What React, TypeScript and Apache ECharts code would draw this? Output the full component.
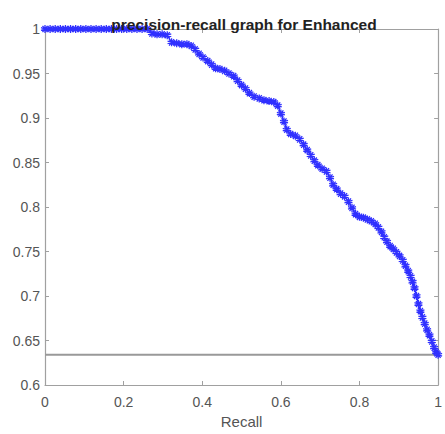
import React, { useEffect, useRef } from "react";
import * as echarts from "echarts";

const titleText = "precision-recall graph for Enhanced";
const xAxisName = "Recall";
const xTicks = [0, 0.2, 0.4, 0.6, 0.8, 1];
const yTicks = [0.6, 0.65, 0.7, 0.75, 0.8, 0.85, 0.9, 0.95, 1];
const baselinePrecision = 0.634;

const recall = [
  0, 0.013, 0.026, 0.039, 0.052, 0.065, 0.078, 0.091, 0.104, 0.117, 0.13, 0.143, 0.156, 0.169, 0.182, 0.195,
  0.208, 0.221, 0.234, 0.247, 0.26, 0.272, 0.285, 0.298, 0.311, 0.322, 0.335, 0.348, 0.361, 0.372, 0.382,
  0.392, 0.402, 0.414, 0.424, 0.434, 0.445, 0.457, 0.468, 0.48, 0.49, 0.5, 0.51, 0.52, 0.532, 0.545, 0.557,
  0.57, 0.582, 0.592, 0.6, 0.608, 0.615, 0.625, 0.637, 0.648, 0.658, 0.667, 0.676, 0.685, 0.694, 0.705,
  0.716, 0.725, 0.733, 0.742, 0.752, 0.762, 0.772, 0.781, 0.79, 0.8, 0.81, 0.82, 0.83, 0.84, 0.848, 0.856,
  0.863, 0.87, 0.878, 0.886, 0.894, 0.902, 0.91, 0.917, 0.924, 0.93, 0.935, 0.94, 0.945, 0.95, 0.955, 0.96,
  0.966, 0.972, 0.978, 0.984, 0.99, 0.995, 1.0,
];
const precision = [
  1, 1, 1, 1, 1, 1, 1, 1, 1, 1, 1, 1, 1, 1, 1, 1, 1, 1, 1, 1, 1, 0.995, 0.994, 0.994, 0.993, 0.985, 0.984,
  0.983, 0.983, 0.981, 0.977, 0.972, 0.968, 0.964, 0.96, 0.956, 0.955, 0.953, 0.95, 0.947, 0.942, 0.937,
  0.933, 0.928, 0.924, 0.922, 0.92, 0.919, 0.918, 0.914, 0.905, 0.896, 0.887, 0.882, 0.88, 0.876, 0.87,
  0.864, 0.858, 0.852, 0.847, 0.843, 0.84, 0.833, 0.825, 0.82, 0.815, 0.812, 0.806, 0.799, 0.792, 0.789,
  0.788, 0.786, 0.784, 0.781, 0.777, 0.772, 0.766, 0.761, 0.756, 0.753, 0.749, 0.745, 0.74, 0.734, 0.728,
  0.722, 0.716, 0.709, 0.7, 0.691, 0.683, 0.676, 0.669, 0.662, 0.656, 0.649, 0.642, 0.637, 0.634,
];

const starPath = "path://M0,-5L0,5M-4.8,-1.6L4.8,1.6M-4.8,1.6L4.8,-1.6M-3,-4L3,4M-3,4L3,-4";

export default function App() {
  const ref = useRef<HTMLDivElement>(null);
  useEffect(() => {
    document.documentElement.style.margin = "0";
    document.documentElement.style.overflow = "hidden";
    document.body.style.margin = "0";
    document.body.style.overflow = "hidden";
    if (!ref.current) return;
    const chart = echarts.init(ref.current, undefined, { renderer: "svg" });
    const axisColor = "#a0a0a0";
    const font = "Liberation Sans, Arial, sans-serif";
    const labelStyle = { color: "#555555", fontSize: 14, fontFamily: font };
    const common = {
      axisLine: { show: true, onZero: false, lineStyle: { color: axisColor, width: 1.2 } },
      axisTick: { show: true, inside: true, length: 4, lineStyle: { color: axisColor } },
      splitLine: { show: false },
    };
    chart.setOption({
      animation: false,
      backgroundColor: "#ffffff",
      title: {
        text: titleText,
        left: 239,
        textAlign: "center",
        top: 11,
        textStyle: { fontSize: 15.5, fontWeight: "bold", color: "#222", fontFamily: font },
      },
      grid: { left: 45, right: 2, top: 29, bottom: 42, containLabel: false },
      xAxis: [
        {
          type: "value",
          min: xTicks[0],
          max: xTicks[xTicks.length - 1],
          interval: 0.2,
          position: "bottom",
          name: xAxisName,
          nameLocation: "middle",
          nameGap: 29,
          nameTextStyle: { ...labelStyle, fontSize: 15 },
          axisLabel: { ...labelStyle, margin: 10, showMaxLabel: true },
          ...common,
        },
        {
          type: "value",
          min: xTicks[0],
          max: xTicks[xTicks.length - 1],
          interval: 0.2,
          position: "top",
          axisLabel: { show: false },
          ...common,
        },
      ],
      yAxis: [
        {
          type: "value",
          min: yTicks[0],
          max: yTicks[yTicks.length - 1],
          interval: 0.05,
          position: "left",
          axisLabel: { ...labelStyle, margin: 5, formatter: (v: number) => String(Math.round(v * 100) / 100) },
          ...common,
        },
        {
          type: "value",
          min: yTicks[0],
          max: yTicks[yTicks.length - 1],
          interval: 0.05,
          position: "right",
          axisLabel: { show: false },
          ...common,
        },
      ],
      series: [
        {
          type: "line",
          data: [
            [0, baselinePrecision],
            [1, baselinePrecision],
          ],
          symbol: "none",
          lineStyle: { color: "#999999", width: 1.8 },
          z: 1,
        },
        {
          type: "line",
          data: recall.map((r, i) => [r, precision[i]]),
          symbol: starPath,
          symbolSize: 8,
          showAllSymbol: true,
          itemStyle: { color: "transparent", borderColor: "#3030ff", borderWidth: 1.3 },
          lineStyle: { color: "#2a2aff", width: 1.3 },
          z: 3,
        },
      ],
    });
    return () => chart.dispose();
  }, []);
  return <div ref={ref} style={{ display: "block", width: 445, height: 434, overflow: "hidden" }} />;
}
